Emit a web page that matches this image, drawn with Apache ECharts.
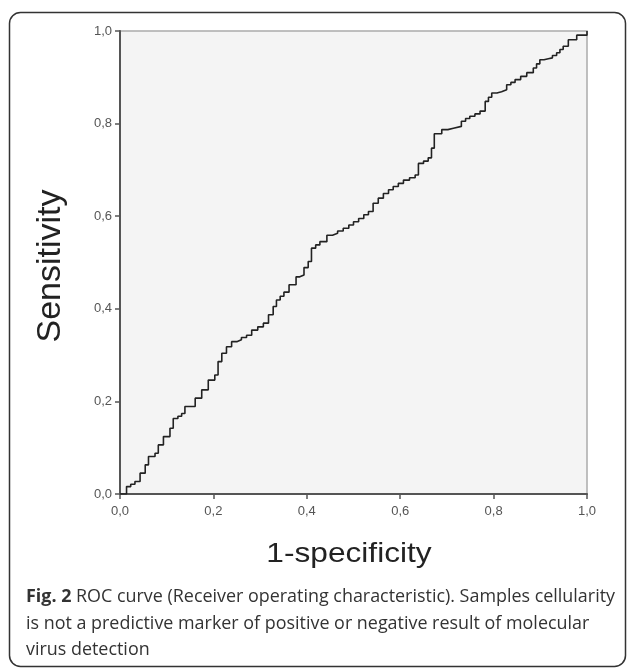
<!DOCTYPE html>
<html>
<head>
<meta charset="utf-8">
<script src="https://cdn.jsdelivr.net/npm/echarts@6/dist/echarts.min.js"></script>
<style>
html,body{margin:0;padding:0;background:#fff;}
#chart{width:627px;height:668px;}
</style>
</head>
<body>
<div id="chart"></div>
<script>
// 1-specificity (false positive rate)
const fpr = [0, 0.014, 0.023, 0.032, 0.043, 0.054, 0.061, 0.075, 0.082, 0.093, 0.107, 0.114, 0.124, 0.132, 0.139, 0.150, 0.161, 0.175, 0.189, 0.203, 0.210, 0.218, 0.228, 0.239, 0.250, 0.260, 0.271, 0.282, 0.295, 0.307, 0.318, 0.328, 0.335, 0.343, 0.351, 0.362, 0.377, 0.385, 0.394, 0.403, 0.410, 0.419, 0.428, 0.443, 0.455, 0.466, 0.478, 0.490, 0.500, 0.511, 0.522, 0.532, 0.542, 0.553, 0.564, 0.575, 0.585, 0.596, 0.607, 0.620, 0.632, 0.639, 0.650, 0.660, 0.667, 0.673, 0.689, 0.702, 0.714, 0.731, 0.740, 0.749, 0.760, 0.771, 0.782, 0.789, 0.796, 0.807, 0.817, 0.828, 0.837, 0.846, 0.858, 0.871, 0.885, 0.892, 0.899, 0.908, 0.917, 0.926, 0.935, 0.942, 0.949, 0.960, 0.978, 1];
// Sensitivity (true positive rate)
const tpr = [0, 0.016, 0.021, 0.027, 0.045, 0.063, 0.081, 0.088, 0.106, 0.124, 0.142, 0.163, 0.168, 0.174, 0.189, 0.189, 0.207, 0.225, 0.246, 0.257, 0.286, 0.304, 0.318, 0.329, 0.333, 0.338, 0.343, 0.354, 0.361, 0.369, 0.387, 0.405, 0.419, 0.427, 0.436, 0.452, 0.469, 0.473, 0.489, 0.502, 0.531, 0.538, 0.545, 0.559, 0.563, 0.568, 0.574, 0.581, 0.588, 0.595, 0.603, 0.610, 0.628, 0.639, 0.649, 0.657, 0.664, 0.671, 0.678, 0.683, 0.689, 0.714, 0.719, 0.726, 0.747, 0.778, 0.787, 0.790, 0.794, 0.805, 0.811, 0.816, 0.821, 0.827, 0.848, 0.857, 0.866, 0.869, 0.873, 0.884, 0.889, 0.895, 0.902, 0.910, 0.920, 0.929, 0.938, 0.940, 0.942, 0.947, 0.953, 0.960, 0.967, 0.981, 0.991, 1];
const tickLabels = ['0,0', '0,2', '0,4', '0,6', '0,8', '1,0'];
const xTitle = '1-specificity';
const yTitle = 'Sensitivity';
const captionBold = 'Fig. 2';
const captionLines = [
  ' ROC curve (Receiver operating characteristic). Samples cellularity',
  'is not a predictive marker of positive or negative result of molecular',
  'virus detection'
];

const points = fpr.map((x, i) => [x, tpr[i]]);
const fmt = v => tickLabels[Math.round(v / 0.2)] || '';
const capFam = '"Open Sans", "Noto Sans", sans-serif';
const capSize = 18;

// fit the first caption line to its width in the reference
const mctx = document.createElement('canvas').getContext('2d');
mctx.font = 'bold ' + capSize + 'px ' + capFam;
let w1 = mctx.measureText(captionBold).width;
mctx.font = capSize + 'px ' + capFam;
w1 += mctx.measureText(captionLines[0]).width;
const capScale = 589 / w1;

const chart = echarts.init(document.getElementById('chart'), null, {renderer: 'canvas'});
const axisCommon = {
  type: 'value', min: 0, max: 1, interval: 0.2,
  splitLine: {show: false},
  axisLine: {show: true, onZero: false, lineStyle: {color: '#555', width: 2}},
  axisTick: {show: true, length: 5, lineStyle: {color: '#555', width: 1.5}},
  axisLabel: {formatter: fmt, color: '#555', fontSize: 13, fontFamily: 'Liberation Sans, Arial, sans-serif', margin: 8}
};
chart.setOption({
  animation: false,
  backgroundColor: '#fff',
  grid: {left: 120, right: 40, top: 31, bottom: 174, show: true, backgroundColor: '#f4f4f4', borderColor: '#aaa', borderWidth: 1.5},
  xAxis: Object.assign({}, axisCommon, {axisLabel: Object.assign({}, axisCommon.axisLabel, {margin: 11})}),
  yAxis: Object.assign({}, axisCommon),
  series: [{
    type: 'line', data: points, step: 'end', showSymbol: false, symbol: 'none',
    lineStyle: {color: '#222', width: 1.6}
  }],
  graphic: [
    {type: 'rect', shape: {x: 9.5, y: 12.5, width: 616, height: 654, r: 11}, style: {fill: 'none', stroke: '#333', lineWidth: 1.5}, z: -1},
    {type: 'text', x: 51, y: 266, rotation: Math.PI / 2, style: {text: yTitle, font: '34px "Liberation Sans", Arial, sans-serif', fill: '#222', align: 'center', verticalAlign: 'middle'}},
    {type: 'text', x: 349, y: 554, scaleX: 1.13, style: {text: xTitle, font: '28px "Liberation Sans", Arial, sans-serif', fill: '#222', align: 'center', verticalAlign: 'middle'}},
    {type: 'text', x: 26, y: 597, scaleX: capScale, style: {
      rich: {
        b: {font: 'bold ' + capSize + 'px ' + capFam, fill: '#333'},
        n: {font: capSize + 'px ' + capFam, fill: '#333'}
      },
      text: '{b|' + captionBold + '}{n|' + captionLines[0] + '}', verticalAlign: 'middle'}},
    {type: 'text', x: 26, y: 624, scaleX: capScale, style: {text: captionLines[1], font: capSize + 'px ' + capFam, fill: '#333', verticalAlign: 'middle'}},
    {type: 'text', x: 26, y: 650, scaleX: capScale, style: {text: captionLines[2], font: capSize + 'px ' + capFam, fill: '#333', verticalAlign: 'middle'}}
  ]
});
</script>
</body>
</html>
